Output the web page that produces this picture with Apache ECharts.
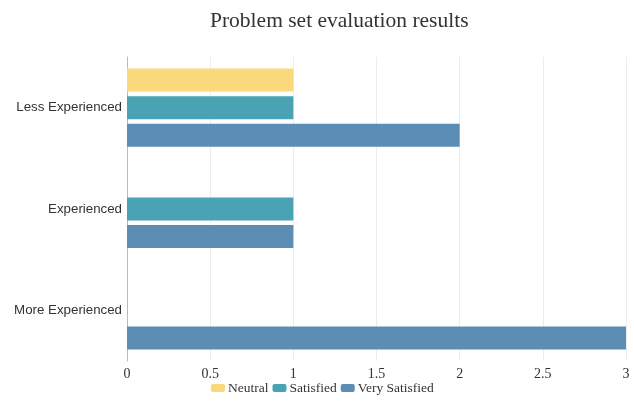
<!DOCTYPE html>
<html>
<head>
<meta charset="utf-8">
<style>
  html, body { margin: 0; padding: 0; background: #fff; }
  #chart { width: 634px; height: 401px; }
</style>
<script src="https://cdn.jsdelivr.net/npm/echarts@6/dist/echarts.min.js"></script>
</head>
<body>
<div id="chart"></div>
<script>
const categories = ['Less Experienced', 'Experienced', 'More Experienced'];
const neutral = [1, 0, 0];
const satisfied = [1, 1, 0];
const verySatisfied = [2, 1, 3];
const xTicks = [0, 0.5, 1, 1.5, 2, 2.5, 3];

const serif = '"Liberation Serif", "DejaVu Serif", serif';
const sans = '"Liberation Sans", Arial, sans-serif';

const chart = echarts.init(document.getElementById('chart'));
chart.setOption({
  animation: false,
  color: ['#fad97c', '#4aa3b4', '#5b8db5'],
  title: {
    text: 'Problem set evaluation results',
    left: 205,
    top: 5,
    textStyle: { fontFamily: serif, fontSize: 21.5, fontWeight: 'normal', color: '#333' }
  },
  legend: {
    bottom: 1,
    left: 206,
    itemWidth: 14,
    itemHeight: 8,
    itemGap: 4,
    icon: 'roundRect',
    textStyle: { fontFamily: serif, fontSize: 13.5, color: '#333', padding: [0, 0, 0, -2] }
  },
  grid: { left: 127, right: 8, top: 57, bottom: 40, containLabel: false },
  xAxis: {
    type: 'value',
    min: xTicks[0],
    max: xTicks[xTicks.length - 1],
    interval: 0.5,
    axisLine: { show: false },
    axisTick: { show: false },
    splitLine: { lineStyle: { color: '#ececec' } },
    axisLabel: { fontFamily: serif, fontSize: 14, color: '#333', margin: 6 }
  },
  yAxis: {
    type: 'category',
    inverse: true,
    data: categories,
    axisLine: { lineStyle: { color: '#bbb' } },
    axisTick: { length: 3, lineStyle: { color: '#bbb' } },
    axisLabel: { fontFamily: sans, fontSize: 13.3, color: '#333', margin: 5 }
  },
  series: [
    { name: 'Neutral', type: 'bar', data: neutral, barWidth: 23, barGap: '20%' },
    { name: 'Satisfied', type: 'bar', data: satisfied, barWidth: 23, barGap: '20%' },
    { name: 'Very Satisfied', type: 'bar', data: verySatisfied, barWidth: 23, barGap: '20%' }
  ]
});
</script>
</body>
</html>
